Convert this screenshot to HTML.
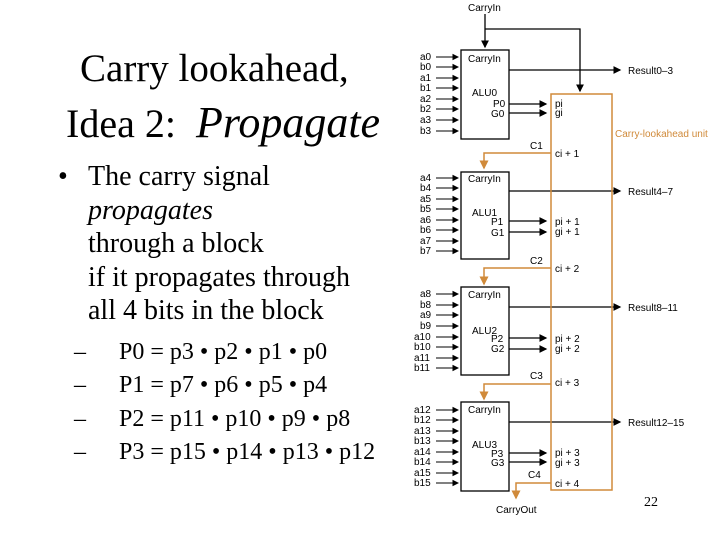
<!DOCTYPE html>
<html><head><style>
body{margin:0;width:720px;height:540px;background:#fff;position:relative;overflow:hidden;font-family:"Liberation Serif",serif;}
.t{position:absolute;white-space:nowrap;color:#000}
svg{position:absolute;left:0;top:0}
svg text{font-family:"Liberation Sans",sans-serif;font-size:10px}
</style></head><body>
<div class="t" style="left:80px;top:46px;font-size:39px">Carry lookahead,</div>
<div class="t" style="left:66px;top:97px;font-size:40px">Idea 2:&nbsp; <i style="font-size:44px">Propagate</i></div>
<div class="t" style="left:58px;top:160px;font-size:28px;line-height:33.5px">•</div>
<div class="t" style="left:88px;top:160px;font-size:28px;line-height:33.5px">The carry signal<br><i>propagates</i><br>through a block<br>if it propagates through<br>all 4 bits in the block</div>
<div class="t" style="left:74px;top:336px;font-size:24px;line-height:33.3px">–<br>–<br>–<br>–</div>
<div class="t" style="left:119px;top:336px;font-size:24px;line-height:33.3px">P0 = p3 • p2 • p1 • p0<br>P1 = p7 • p6 • p5 • p4<br>P2 = p11 • p10 • p9 • p8<br>P3 = p15 • p14 • p13 • p12</div>
<div class="t" style="left:644px;top:495px;font-size:14px">22</div>
<svg width="720" height="540">
<defs>
<marker id="a" markerWidth="6" markerHeight="6" refX="5" refY="3" orient="auto"><path d="M0,0L6,3L0,6z" fill="#000"/></marker>
<marker id="o" markerWidth="6" markerHeight="6" refX="5" refY="3" orient="auto"><path d="M0,0L6,3L0,6z" fill="#d08a3a"/></marker>
</defs>
<g fill="none" stroke="#000" stroke-width="1.3">
<rect x="461" y="50" width="48" height="89"/>
<rect x="461" y="172" width="48" height="87"/>
<rect x="461" y="287" width="48" height="88"/>
<rect x="461" y="402" width="48" height="89"/>
<path d="M485 14V47" marker-end="url(#a)"/>
<path d="M485 29H580V91" marker-end="url(#a)"/>
<path d="M509 70H620" marker-end="url(#a)"/>
<path d="M509 191H620" marker-end="url(#a)"/>
<path d="M509 307H620" marker-end="url(#a)"/>
<path d="M509 422H620" marker-end="url(#a)"/>
<path d="M509 104H546" marker-end="url(#a)"/><path d="M509 113H546" marker-end="url(#a)"/>
<path d="M509 221H546" marker-end="url(#a)"/><path d="M509 232H546" marker-end="url(#a)"/>
<path d="M509 338H546" marker-end="url(#a)"/><path d="M509 349H546" marker-end="url(#a)"/>
<path d="M509 453H546" marker-end="url(#a)"/><path d="M509 462H546" marker-end="url(#a)"/>
</g>
<g fill="none" stroke="#000" stroke-width="1.1">
<path d="M436 57H458" marker-end="url(#a)"/><path d="M436 67H458" marker-end="url(#a)"/><path d="M436 78H458" marker-end="url(#a)"/><path d="M436 88H458" marker-end="url(#a)"/><path d="M436 99H458" marker-end="url(#a)"/><path d="M436 109H458" marker-end="url(#a)"/><path d="M436 120H458" marker-end="url(#a)"/><path d="M436 131H458" marker-end="url(#a)"/>
<path d="M436 178H458" marker-end="url(#a)"/><path d="M436 188H458" marker-end="url(#a)"/><path d="M436 199H458" marker-end="url(#a)"/><path d="M436 209H458" marker-end="url(#a)"/><path d="M436 220H458" marker-end="url(#a)"/><path d="M436 230H458" marker-end="url(#a)"/><path d="M436 241H458" marker-end="url(#a)"/><path d="M436 251H458" marker-end="url(#a)"/>
<path d="M436 294H458" marker-end="url(#a)"/><path d="M436 305H458" marker-end="url(#a)"/><path d="M436 315H458" marker-end="url(#a)"/><path d="M436 326H458" marker-end="url(#a)"/><path d="M436 337H458" marker-end="url(#a)"/><path d="M436 347H458" marker-end="url(#a)"/><path d="M436 358H458" marker-end="url(#a)"/><path d="M436 368H458" marker-end="url(#a)"/>
<path d="M436 410H458" marker-end="url(#a)"/><path d="M436 420H458" marker-end="url(#a)"/><path d="M436 431H458" marker-end="url(#a)"/><path d="M436 441H458" marker-end="url(#a)"/><path d="M436 452H458" marker-end="url(#a)"/><path d="M436 462H458" marker-end="url(#a)"/><path d="M436 473H458" marker-end="url(#a)"/><path d="M436 483H458" marker-end="url(#a)"/>
</g>
<g fill="none" stroke="#d08a3a" stroke-width="1.5">
<rect x="551" y="94" width="61" height="396"/>
<path d="M551 153H484V168" marker-end="url(#o)"/>
<path d="M551 268H484V284" marker-end="url(#o)"/>
<path d="M551 384H484V399" marker-end="url(#o)"/>
<path d="M551 483H516V498" marker-end="url(#o)"/>
</g>
<text x="468" y="11">CarryIn</text>
<g>
<text x="468" y="62">CarryIn</text><text x="472" y="96">ALU0</text><text x="493" y="107">P0</text><text x="491" y="117">G0</text>
<text x="468" y="182">CarryIn</text><text x="472" y="216">ALU1</text><text x="491" y="225">P1</text><text x="491" y="236">G1</text>
<text x="468" y="298">CarryIn</text><text x="472" y="334">ALU2</text><text x="491" y="342">P2</text><text x="491" y="352">G2</text>
<text x="468" y="413">CarryIn</text><text x="472" y="448">ALU3</text><text x="491" y="457">P3</text><text x="491" y="466">G3</text>
</g>
<g>
<text x="420" y="60">a0</text><text x="420" y="70">b0</text><text x="420" y="81">a1</text><text x="420" y="91">b1</text><text x="420" y="102">a2</text><text x="420" y="112">b2</text><text x="420" y="123">a3</text><text x="420" y="134">b3</text>
<text x="420" y="181">a4</text><text x="420" y="191">b4</text><text x="420" y="202">a5</text><text x="420" y="212">b5</text><text x="420" y="223">a6</text><text x="420" y="233">b6</text><text x="420" y="244">a7</text><text x="420" y="254">b7</text>
<text x="420" y="297">a8</text><text x="420" y="308">b8</text><text x="420" y="318">a9</text><text x="420" y="329">b9</text><text x="414" y="340">a10</text><text x="414" y="350">b10</text><text x="414" y="361">a11</text><text x="414" y="371">b11</text>
<text x="414" y="413">a12</text><text x="414" y="423">b12</text><text x="414" y="434">a13</text><text x="414" y="444">b13</text><text x="414" y="455">a14</text><text x="414" y="465">b14</text><text x="414" y="476">a15</text><text x="414" y="486">b15</text>
</g>
<text x="628" y="74">Result0–3</text><text x="628" y="195">Result4–7</text><text x="628" y="311">Result8–11</text><text x="628" y="426">Result12–15</text>
<text x="555" y="107">pi</text><text x="555" y="116">gi</text><text x="555" y="157">ci + 1</text>
<text x="555" y="225">pi + 1</text><text x="555" y="235">gi + 1</text><text x="555" y="272">ci + 2</text>
<text x="555" y="342">pi + 2</text><text x="555" y="352">gi + 2</text><text x="555" y="386">ci + 3</text>
<text x="555" y="456">pi + 3</text><text x="555" y="466">gi + 3</text><text x="555" y="487">ci + 4</text>
<text x="530" y="149">C1</text><text x="530" y="264">C2</text><text x="530" y="379">C3</text><text x="528" y="478">C4</text>
<text x="496" y="513">CarryOut</text>
<text x="615" y="137" fill="#d08a3a">Carry-lookahead unit</text>
</svg>
</body></html>
